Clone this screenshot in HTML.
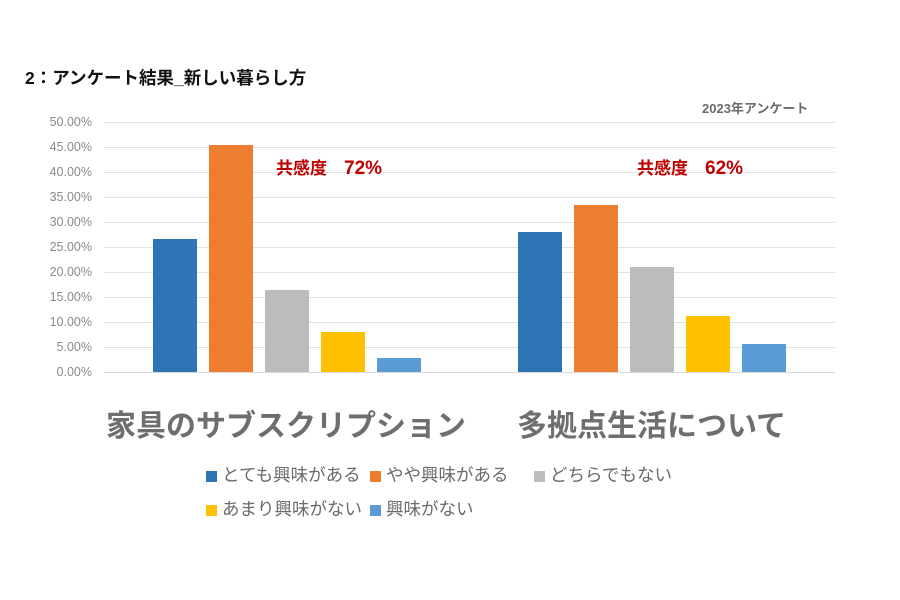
<!DOCTYPE html>
<html><head><meta charset="utf-8"><style>
body{margin:0;width:900px;height:600px;background:#fff;position:relative;overflow:hidden;font-family:"Liberation Sans","Noto Sans CJK JP",sans-serif}
.a{position:absolute;white-space:nowrap}
.g{position:absolute;left:104px;width:731px;height:1px;background:#e2e2e2}
.t{position:absolute;left:28px;width:64px;text-align:right;font-size:12.5px;color:#8a8a8a;line-height:12px}
.b{position:absolute;width:44px}
.sq{display:inline-block;width:11px;height:11px;margin-right:5px;vertical-align:-1px}
.lg{font-size:17.5px;color:#6b6b6b}
</style></head><body>
<div class="a" style="left:25px;top:65px;font-size:17.5px;font-weight:bold;color:#111">2：アンケート結果_新しい暮らし方</div>
<div class="a" style="left:702px;top:98px;font-size:13px;font-weight:bold;color:#6b6b6b">2023年アンケート</div>

<div class="g" style="top:122px"></div><div class="g" style="top:147px"></div><div class="g" style="top:172px"></div><div class="g" style="top:197px"></div><div class="g" style="top:222px"></div><div class="g" style="top:247px"></div><div class="g" style="top:272px"></div><div class="g" style="top:297px"></div><div class="g" style="top:322px"></div><div class="g" style="top:347px"></div><div class="g" style="top:372px;background:#d6d6d6"></div>

<div class="t" style="top:116px">50.00%</div><div class="t" style="top:141px">45.00%</div><div class="t" style="top:166px">40.00%</div><div class="t" style="top:191px">35.00%</div><div class="t" style="top:216px">30.00%</div><div class="t" style="top:241px">25.00%</div><div class="t" style="top:266px">20.00%</div><div class="t" style="top:291px">15.00%</div><div class="t" style="top:316px">10.00%</div><div class="t" style="top:341px">5.00%</div><div class="t" style="top:366px">0.00%</div>

<div class="b" style="left:153px;top:239px;height:133px;background:#2e75b6"></div>
<div class="b" style="left:209px;top:145px;height:227px;background:#ed7d31"></div>
<div class="b" style="left:265px;top:290px;height:82px;background:#bcbcbc"></div>
<div class="b" style="left:321px;top:332px;height:40px;background:#ffc000"></div>
<div class="b" style="left:377px;top:358px;height:14px;background:#5b9bd5"></div>

<div class="b" style="left:518px;top:232px;height:140px;background:#2e75b6"></div>
<div class="b" style="left:574px;top:205px;height:167px;background:#ed7d31"></div>
<div class="b" style="left:630px;top:267px;height:105px;background:#bcbcbc"></div>
<div class="b" style="left:686px;top:316px;height:56px;background:#ffc000"></div>
<div class="b" style="left:742px;top:344px;height:28px;background:#5b9bd5"></div>

<div class="a" style="left:276px;top:154px;font-size:17px;font-weight:bold;color:#c00000">共感度　<span style="font-size:19px">72%</span></div>
<div class="a" style="left:637px;top:154px;font-size:17px;font-weight:bold;color:#c00000">共感度　<span style="font-size:19px">62%</span></div>

<div class="a" style="left:106px;top:401px;font-size:30px;font-weight:bold;color:#6e6e6e">家具のサブスクリプション</div>
<div class="a" style="left:517px;top:401px;font-size:30px;font-weight:bold;color:#6e6e6e">多拠点生活について</div>

<div class="a lg" style="left:206px;top:462px"><span class="sq" style="background:#2e75b6"></span>とても興味がある</div>
<div class="a lg" style="left:370px;top:462px"><span class="sq" style="background:#ed7d31"></span>やや興味がある</div>
<div class="a lg" style="left:534px;top:462px"><span class="sq" style="background:#bcbcbc"></span>どちらでもない</div>
<div class="a lg" style="left:206px;top:496px"><span class="sq" style="background:#ffc000"></span>あまり興味がない</div>
<div class="a lg" style="left:370px;top:496px"><span class="sq" style="background:#5b9bd5"></span>興味がない</div>
</body></html>
